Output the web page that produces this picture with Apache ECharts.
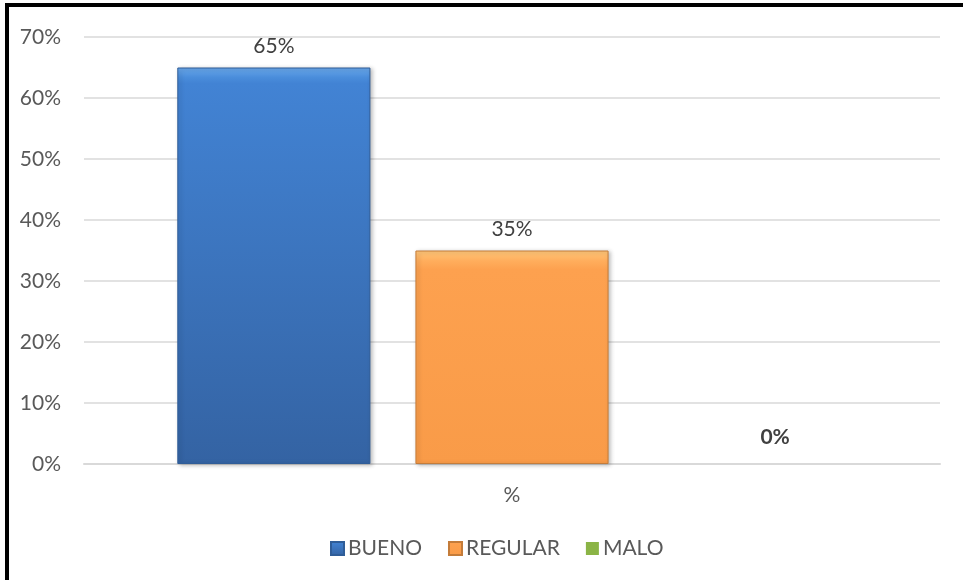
<!DOCTYPE html>
<html>
<head>
<meta charset="utf-8">
<script src="https://cdn.jsdelivr.net/npm/echarts@6/dist/echarts.min.js"></script>
<style>
  html, body { margin: 0; padding: 0; background: #fff; }
  #chart { width: 963px; height: 580px; }
</style>
</head>
<body>
<div id="chart"></div>
<script>
// Rating distribution, one category with three series
const categories = ['%'];
const seriesNames = ['BUENO', 'REGULAR', 'MALO'];
const bueno = [65];
const regular = [35];
const malo = [0];
const yTicks = [0, 10, 20, 30, 40, 50, 60, 70];

const FONT = 'Lato, "Open Sans", sans-serif';
const GREY = '#595959';
const FS = 21;

function grad(stops) {
  return new echarts.graphic.LinearGradient(0, 0, 0, 1,
    stops.map(s => ({ offset: s[0], color: s[1] })));
}

const styles = {
  BUENO: {
    color: grad([[0, '#6aa8ea'], [0.025, '#4a8ddb'], [0.04, '#4283d4'], [1, '#3463a3']]),
    borderColor: '#2f5d98', legend: '#3a72bd'
  },
  REGULAR: {
    color: grad([[0, '#ffc77a'], [0.05, '#ffad5c'], [0.09, '#fda14f'], [1, '#f99b48']]),
    borderColor: '#c47c3a', legend: '#f79646'
  },
  MALO: {
    color: grad([[0, '#a6cf5e'], [1, '#7ea33e']]),
    borderColor: '#6a8c33', legend: '#8bb446'
  }
};

function makeSeries(name, data, labelExtra, flat) {
  const st = styles[name];
  return {
    name: name,
    type: 'bar',
    data: data,
    barGap: '23.3%',
    barCategoryGap: '21.8%',
    itemStyle: flat ? { color: st.legend, borderWidth: 0 } : {
      color: st.color,
      borderColor: st.borderColor,
      borderWidth: 1,
      shadowBlur: 4,
      shadowOffsetX: 2,
      shadowOffsetY: 1,
      shadowColor: 'rgba(0,0,0,0.25)'
    },
    label: Object.assign({
      show: true,
      position: 'top',
      distance: 11,
      formatter: p => p.value + '%',
      color: '#404040',
      fontFamily: FONT,
      fontSize: FS
    }, labelExtra || {})
  };
}

const chart = echarts.init(document.getElementById('chart'));
chart.setOption({
  animation: false,
  backgroundColor: '#ffffff',
  textStyle: { fontFamily: FONT },
  color: seriesNames.map(n => styles[n].legend),
  graphic: [
    { type: 'rect', shape: { x: 5, y: 3, width: 4, height: 577 }, style: { fill: '#000' }, z: 100 },
    { type: 'rect', shape: { x: 5, y: 3, width: 958, height: 4 }, style: { fill: '#000' }, z: 100 }
  ],
  grid: { left: 84, right: 23, top: 37, bottom: 116, containLabel: false },
  legend: {
    bottom: 16,
    left: 325,
    icon: 'rect',
    itemWidth: 13,
    itemHeight: 13,
    itemGap: 26,
    textStyle: { color: GREY, fontSize: FS, fontFamily: FONT, padding: [0, 0, 0, -1] },
    data: seriesNames
  },
  xAxis: {
    type: 'category',
    data: categories,
    axisLine: { show: true, lineStyle: { color: '#d9d9d9', width: 2 } },
    axisTick: { show: false },
    axisLabel: { color: GREY, fontSize: FS, fontFamily: FONT, margin: 21 }
  },
  yAxis: {
    type: 'value',
    min: yTicks[0],
    max: yTicks[yTicks.length - 1],
    interval: 10,
    axisLine: { show: false },
    axisTick: { show: false },
    axisLabel: { color: GREY, fontSize: FS, fontFamily: FONT, margin: 23, formatter: v => v + '%' },
    splitLine: { lineStyle: { color: '#d9d9d9', width: 1.5 } }
  },
  series: [
    makeSeries('BUENO', bueno),
    makeSeries('REGULAR', regular),
    makeSeries('MALO', malo, { fontWeight: 'bold', offset: [25, -5], color: '#404040' }, true)
  ]
});
</script>
</body>
</html>
